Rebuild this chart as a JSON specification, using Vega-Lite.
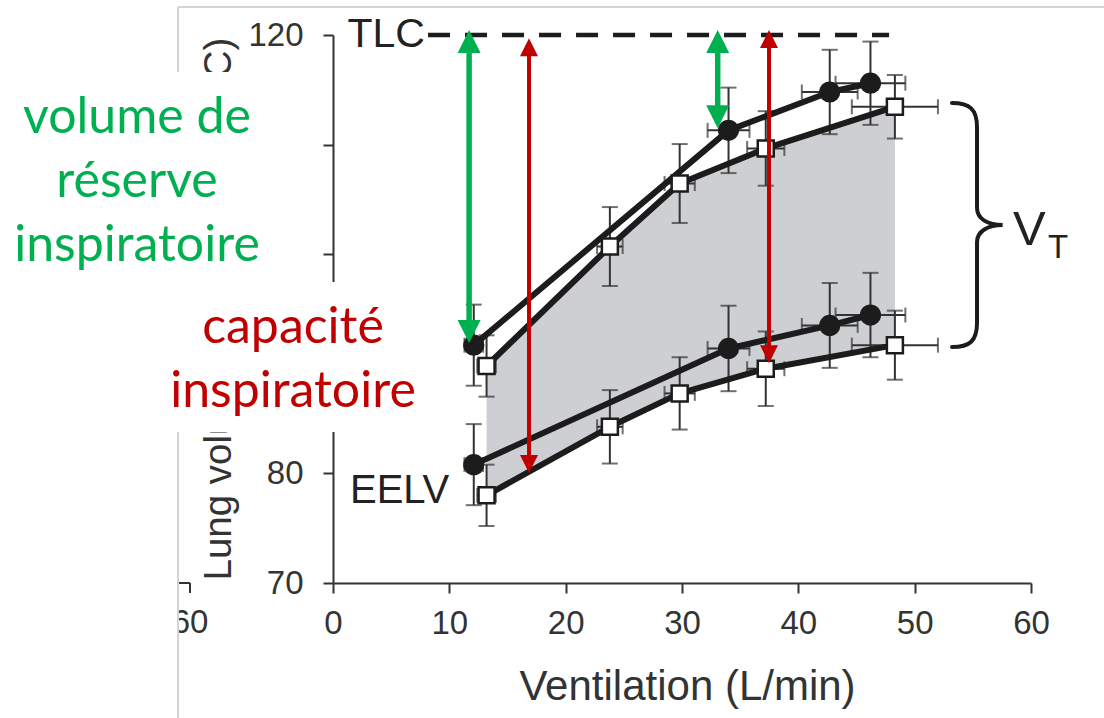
{
  "$schema": "https://vega.github.io/schema/vega-lite/v6.json",
  "width": 698,
  "height": 548,
  "autosize": {"type": "none"},
  "padding": {"left": 333, "top": 35, "right": 73, "bottom": 135},
  "background": "white",
  "config": {"view": {"stroke": null}, "font": "Liberation Sans"},
  "datasets": {
    "series": [
      {"group": "A", "phase": "EILV", "vent": 12.1, "vol": 91.7, "ventErr": 0.8, "volErr": 3.7},
      {"group": "A", "phase": "EILV", "vent": 34.0, "vol": 111.3, "ventErr": 1.8, "volErr": 3.9},
      {"group": "A", "phase": "EILV", "vent": 42.7, "vol": 114.8, "ventErr": 2.4, "volErr": 3.85},
      {"group": "A", "phase": "EILV", "vent": 46.2, "vol": 115.6, "ventErr": 3.0, "volErr": 3.8},
      {"group": "A", "phase": "EELV", "vent": 12.1, "vol": 80.8, "ventErr": 0.8, "volErr": 3.7},
      {"group": "A", "phase": "EELV", "vent": 34.0, "vol": 91.4, "ventErr": 1.8, "volErr": 3.9},
      {"group": "A", "phase": "EELV", "vent": 42.7, "vol": 93.5, "ventErr": 2.4, "volErr": 3.87},
      {"group": "A", "phase": "EELV", "vent": 46.2, "vol": 94.45, "ventErr": 3.0, "volErr": 3.85},
      {"group": "B", "phase": "EILV", "vent": 13.2, "vol": 89.8, "ventErr": 0.8, "volErr": 2.8},
      {"group": "B", "phase": "EILV", "vent": 23.8, "vol": 100.7, "ventErr": 1.1, "volErr": 3.6},
      {"group": "B", "phase": "EILV", "vent": 29.8, "vol": 106.45, "ventErr": 1.3, "volErr": 3.6},
      {"group": "B", "phase": "EILV", "vent": 37.2, "vol": 109.65, "ventErr": 1.6, "volErr": 3.4},
      {"group": "B", "phase": "EILV", "vent": 48.3, "vol": 113.45, "ventErr": 3.7, "volErr": 2.9},
      {"group": "B", "phase": "EELV", "vent": 13.2, "vol": 78.0, "ventErr": 0.8, "volErr": 2.8},
      {"group": "B", "phase": "EELV", "vent": 23.8, "vol": 84.25, "ventErr": 1.1, "volErr": 3.35},
      {"group": "B", "phase": "EELV", "vent": 29.8, "vol": 87.3, "ventErr": 1.3, "volErr": 3.3},
      {"group": "B", "phase": "EELV", "vent": 37.2, "vol": 89.55, "ventErr": 1.6, "volErr": 3.4},
      {"group": "B", "phase": "EELV", "vent": 48.3, "vol": 91.7, "ventErr": 3.7, "volErr": 3.15}
    ],
    "fleches": [
      {"type": "VRI", "x": 11.7, "haut": 120.46, "bas": 91.9},
      {"type": "VRI", "x": 33.07, "haut": 120.46, "bas": 111.49},
      {"type": "CI", "x": 16.85, "haut": 119.7, "bas": 80.04},
      {"type": "CI", "x": 37.48, "haut": 120.46, "bas": 90.05}
    ],
    "autre": [
      {"part": "axe", "x1": -15, "x2": -12.29, "y1": 70, "y2": 70},
      {"part": "graduation", "x1": -12.29, "x2": -12.29, "y1": 70, "y2": 69.09}
    ],
    "autreLabel": [{"t": "60", "x": -12.29, "y": 67.81}],
    "bande": [{"x1": -40, "x2": -13.32, "y1": 50, "y2": 130}],
    "cadre": [
      {"x1": -13.32, "x2": -13.32, "y1": 122.55, "y2": 50},
      {"x1": -13.32, "x2": 70, "y1": 122.55, "y2": 122.55}
    ],
    "tlc": [{"x1": 8.17, "x2": 47.8, "y": 120}],
    "tlcLabel": [{"t": "TLC", "x": 7.9, "y": 120}],
    "eelvLabel": [{"t": "EELV", "x": 1.46, "y": 77.3}],
    "accolade": [{"x": 55.36, "y": 102.66}],
    "vt": [{"t": "V", "x": 58.45, "y": 100.84}],
    "vtSub": [{"t": "T", "x": 61.46, "y": 99.65}],
    "boites": [
      {"nom": "vert", "x1": -40, "x2": -1.29, "y1": 97.46, "y2": 116.62},
      {"nom": "rouge", "x1": -40, "x2": 9.2, "y1": 83.78, "y2": 97.46}
    ],
    "texteVert": [
      {"t": "volume de", "x": -16.85, "y": 111.06},
      {"t": "réserve", "x": -16.85, "y": 105.25},
      {"t": "inspiratoire", "x": -16.85, "y": 99.4}
    ],
    "texteRouge": [
      {"t": "capacité", "x": -3.44, "y": 91.9},
      {"t": "inspiratoire", "x": -3.44, "y": 86.06}
    ]
  },
  "layer": [
    {
      "data": {"name": "autre"},
      "mark": {"type": "rule", "color": "#333", "strokeWidth": 2},
      "encoding": {
        "x": {"field": "x1", "type": "quantitative", "title": "Ventilation (L/min)",
          "scale": {"domain": [0, 60], "nice": false, "zero": false},
          "axis": {"values": [0, 10, 20, 30, 40, 50, 60], "grid": false,
            "domainColor": "#333", "domainWidth": 2, "tickColor": "#333", "tickWidth": 2, "tickSize": 10,
            "labelFont": "Liberation Sans", "labelFontSize": 33, "labelColor": "#333", "labelPadding": 14, "labelFlush": false,
            "titleFont": "Liberation Sans", "titleFontSize": 42, "titleFontWeight": "normal", "titleColor": "#333",
            "titleX": 354, "titleY": 116, "titleAlign": "center", "titleBaseline": "alphabetic"}},
        "x2": {"field": "x2"},
        "y": {"field": "y1", "type": "quantitative", "title": "Lung volume (% predicted TLC)",
          "scale": {"domain": [70, 120], "nice": false, "zero": false},
          "axis": {"values": [70, 80, 90, 100, 110, 120], "grid": false,
            "labelExpr": "datum.value === 70 || datum.value === 80 || datum.value === 120 ? datum.label : ''",
            "domainColor": "#333", "domainWidth": 2, "tickColor": "#333", "tickWidth": 2, "tickSize": 10,
            "labelFont": "Liberation Sans", "labelFontSize": 33, "labelColor": "#333", "labelPadding": 20,
            "titleFont": "Liberation Sans", "titleFontSize": 38.5, "titleFontWeight": "normal", "titleColor": "#333",
            "titleAngle": 270, "titleAlign": "left", "titleBaseline": "alphabetic", "titleX": -103, "titleY": 545}},
        "y2": {"field": "y2"}
      }
    },
    {
      "data": {"name": "autreLabel"},
      "mark": {"type": "text", "font": "Liberation Sans", "fontSize": 33, "color": "#333", "align": "center", "baseline": "top"},
      "encoding": {"x": {"field": "x", "type": "quantitative"}, "y": {"field": "y", "type": "quantitative"}, "text": {"field": "t"}}
    },
    {
      "data": {"name": "bande"},
      "mark": {"type": "rect", "color": "white"},
      "encoding": {"x": {"field": "x1", "type": "quantitative"}, "x2": {"field": "x2"}, "y": {"field": "y1", "type": "quantitative"}, "y2": {"field": "y2"}}
    },
    {
      "data": {"name": "cadre"},
      "mark": {"type": "rule", "color": "#d4d4d4", "strokeWidth": 2},
      "encoding": {"x": {"field": "x1", "type": "quantitative"}, "x2": {"field": "x2"}, "y": {"field": "y1", "type": "quantitative"}, "y2": {"field": "y2"}}
    },
    {
      "data": {"name": "series"},
      "transform": [{"filter": "datum.group === 'B'"}, {"pivot": "phase", "value": "vol", "groupby": ["vent"]}],
      "mark": {"type": "area", "color": "#cdcfd2", "opacity": 1},
      "encoding": {"x": {"field": "vent", "type": "quantitative"}, "y": {"field": "EILV", "type": "quantitative"}, "y2": {"field": "EELV"}}
    },
    {
      "data": {"name": "tlc"},
      "mark": {"type": "rule", "color": "#1c1c1c", "strokeWidth": 4.5, "strokeDash": [22, 15]},
      "encoding": {"x": {"field": "x1", "type": "quantitative"}, "x2": {"field": "x2"}, "y": {"field": "y", "type": "quantitative"}}
    },
    {
      "data": {"name": "tlcLabel"},
      "mark": {"type": "text", "font": "Liberation Sans", "fontSize": 41, "color": "#222", "align": "right", "baseline": "middle"},
      "encoding": {"x": {"field": "x", "type": "quantitative"}, "y": {"field": "y", "type": "quantitative"}, "text": {"field": "t"}}
    },
    {
      "data": {"name": "eelvLabel"},
      "mark": {"type": "text", "font": "Liberation Sans", "fontSize": 40, "color": "#222", "align": "left", "baseline": "alphabetic"},
      "encoding": {"x": {"field": "x", "type": "quantitative"}, "y": {"field": "y", "type": "quantitative"}, "text": {"field": "t"}}
    },
    {
      "data": {"name": "series"},
      "mark": {"type": "errorbar", "ticks": true, "size": 16, "thickness": 2, "color": "#333"},
      "encoding": {
        "x": {"field": "vent", "type": "quantitative", "title": "Ventilation (L/min)"},
        "y": {"field": "vol", "type": "quantitative", "title": "Lung volume (% predicted TLC)"},
        "yError": {"field": "volErr"}}
    },
    {
      "data": {"name": "series"},
      "mark": {"type": "errorbar", "ticks": true, "size": 15, "thickness": 2, "color": "#333"},
      "encoding": {
        "x": {"field": "vent", "type": "quantitative", "title": "Ventilation (L/min)"},
        "xError": {"field": "ventErr"},
        "y": {"field": "vol", "type": "quantitative", "title": "Lung volume (% predicted TLC)"}}
    },
    {
      "data": {"name": "series"},
      "mark": {"type": "line", "color": "#1c1c1c", "strokeWidth": 6, "strokeJoin": "round"},
      "encoding": {"x": {"field": "vent", "type": "quantitative"}, "y": {"field": "vol", "type": "quantitative"}, "detail": [{"field": "group"}, {"field": "phase"}]}
    },
    {
      "data": {"name": "series"},
      "transform": [{"filter": "datum.group === 'A'"}],
      "mark": {"type": "point", "shape": "circle", "filled": true, "color": "#1c1c1c", "size": 450, "opacity": 1},
      "encoding": {"x": {"field": "vent", "type": "quantitative"}, "y": {"field": "vol", "type": "quantitative"}}
    },
    {
      "data": {"name": "series"},
      "transform": [{"filter": "datum.group === 'B'"}],
      "mark": {"type": "point", "shape": "square", "filled": true, "fill": "white", "stroke": "#1c1c1c", "strokeWidth": 2.5, "size": 256, "opacity": 1},
      "encoding": {"x": {"field": "vent", "type": "quantitative"}, "y": {"field": "vol", "type": "quantitative"}}
    },
    {
      "data": {"name": "fleches"},
      "transform": [{"filter": "datum.type === 'VRI'"}],
      "mark": {"type": "rule", "color": "#00b050", "strokeWidth": 5.5, "yOffset": 14, "y2Offset": -14},
      "encoding": {"x": {"field": "x", "type": "quantitative"}, "y": {"field": "haut", "type": "quantitative"}, "y2": {"field": "bas"}}
    },
    {
      "data": {"name": "fleches"},
      "transform": [{"filter": "datum.type === 'VRI'"}],
      "mark": {"type": "point", "shape": "M0,0L-1,2L1,2Z", "filled": true, "color": "#00b050", "size": 529, "opacity": 1},
      "encoding": {"x": {"field": "x", "type": "quantitative"}, "y": {"field": "haut", "type": "quantitative"}}
    },
    {
      "data": {"name": "fleches"},
      "transform": [{"filter": "datum.type === 'VRI'"}],
      "mark": {"type": "point", "shape": "M0,0L-1,-2L1,-2Z", "filled": true, "color": "#00b050", "size": 529, "opacity": 1},
      "encoding": {"x": {"field": "x", "type": "quantitative"}, "y": {"field": "bas", "type": "quantitative"}}
    },
    {
      "data": {"name": "fleches"},
      "transform": [{"filter": "datum.type === 'CI'"}],
      "mark": {"type": "rule", "color": "#c00000", "strokeWidth": 4, "yOffset": 11, "y2Offset": -11},
      "encoding": {"x": {"field": "x", "type": "quantitative"}, "y": {"field": "haut", "type": "quantitative"}, "y2": {"field": "bas"}}
    },
    {
      "data": {"name": "fleches"},
      "transform": [{"filter": "datum.type === 'CI'"}],
      "mark": {"type": "point", "shape": "M0,0L-1,2L1,2Z", "filled": true, "color": "#c00000", "size": 324, "opacity": 1},
      "encoding": {"x": {"field": "x", "type": "quantitative"}, "y": {"field": "haut", "type": "quantitative"}}
    },
    {
      "data": {"name": "fleches"},
      "transform": [{"filter": "datum.type === 'CI'"}],
      "mark": {"type": "point", "shape": "M0,0L-1,-2L1,-2Z", "filled": true, "color": "#c00000", "size": 324, "opacity": 1},
      "encoding": {"x": {"field": "x", "type": "quantitative"}, "y": {"field": "bas", "type": "quantitative"}}
    },
    {
      "data": {"name": "accolade"},
      "mark": {"type": "point", "shape": "M-0.205,-1C-0.06,-1 0,-0.95 0,-0.8L0,-0.14C0,-0.05 0.09,0 0.21,0C0.09,0 0,0.05 0,0.14L0,0.8C0,0.95 -0.06,1 -0.205,1", "filled": false, "color": "#1c1c1c", "strokeWidth": 4, "strokeCap": "round", "size": 59536, "opacity": 1},
      "encoding": {"x": {"field": "x", "type": "quantitative"}, "y": {"field": "y", "type": "quantitative"}}
    },
    {
      "data": {"name": "vt"},
      "mark": {"type": "text", "font": "Liberation Sans", "fontSize": 49, "color": "#222", "align": "left", "baseline": "alphabetic"},
      "encoding": {"x": {"field": "x", "type": "quantitative"}, "y": {"field": "y", "type": "quantitative"}, "text": {"field": "t"}}
    },
    {
      "data": {"name": "vtSub"},
      "mark": {"type": "text", "font": "Liberation Sans", "fontSize": 33, "color": "#222", "align": "left", "baseline": "alphabetic"},
      "encoding": {"x": {"field": "x", "type": "quantitative"}, "y": {"field": "y", "type": "quantitative"}, "text": {"field": "t"}}
    },
    {
      "data": {"name": "boites"},
      "mark": {"type": "rect", "color": "white"},
      "encoding": {"x": {"field": "x1", "type": "quantitative"}, "x2": {"field": "x2"}, "y": {"field": "y1", "type": "quantitative"}, "y2": {"field": "y2"}}
    },
    {
      "data": {"name": "texteVert"},
      "mark": {"type": "text", "font": "Lato", "fontSize": 50, "color": "#00b050", "align": "center", "baseline": "alphabetic"},
      "encoding": {"x": {"field": "x", "type": "quantitative"}, "y": {"field": "y", "type": "quantitative"}, "text": {"field": "t"}}
    },
    {
      "data": {"name": "texteRouge"},
      "mark": {"type": "text", "font": "Lato", "fontSize": 50, "color": "#c00000", "align": "center", "baseline": "alphabetic"},
      "encoding": {"x": {"field": "x", "type": "quantitative"}, "y": {"field": "y", "type": "quantitative"}, "text": {"field": "t"}}
    }
  ]
}
